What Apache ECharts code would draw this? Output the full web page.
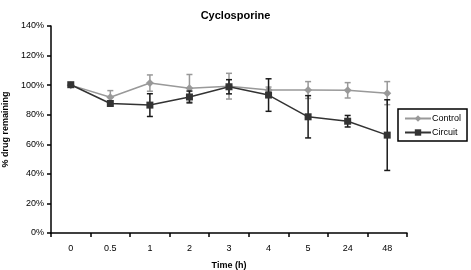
<!DOCTYPE html>
<html>
<head>
<meta charset="utf-8">
<script src="https://cdn.jsdelivr.net/npm/echarts@6/dist/echarts.min.js"></script>
<style>
    html, body { margin: 0; padding: 0; background: #fff; }
    #chart { width: 471px; height: 270px; }
</style>
</head>
<body>
<div id="chart"></div>
<script>
// Chart data
var timeLabels = ['0', '0.5', '1', '2', '3', '4', '5', '24', '48'];
var controlValues = [100, 91.8, 101.4, 97.9, 99.3, 96.7, 96.7, 96.5, 94.6];
var controlErrors = [0, 4.5, 5.5, 9.3, 8.7, 2, 5.7, 5.2, 7.8];
var circuitValues = [100.3, 87.6, 86.5, 92.0, 98.9, 93.3, 78.6, 75.6, 66.2];
var circuitErrors = [0, 0, 7.7, 4, 4.8, 11, 14.3, 3.9, 23.9];

var chart = echarts.init(document.getElementById('chart'));

// Build error bar data [index, low, high]
var buildErr = function (vals, errs) {
    return vals.map(function (v, i) {
        return [i, v - errs[i], v + errs[i]];
    });
};

var errRender = function (color) {
    return function (params, api) {
        var lo = api.coord([api.value(0), api.value(1)]);
        var hi = api.coord([api.value(0), api.value(2)]);
        if (Math.abs(lo[1] - hi[1]) < 1) return;
        var cw = 3;
        var style = { stroke: color, lineWidth: 1.5 };
        return {
            type: 'group',
            children: [
                { type: 'line', shape: { x1: lo[0], y1: lo[1], x2: hi[0], y2: hi[1] }, style: style },
                { type: 'line', shape: { x1: lo[0] - cw, y1: lo[1], x2: lo[0] + cw, y2: lo[1] }, style: style },
                { type: 'line', shape: { x1: hi[0] - cw, y1: hi[1], x2: hi[0] + cw, y2: hi[1] }, style: style }
            ]
        };
    };
};

var fontFam = '"Liberation Sans", Arial, Helvetica, sans-serif';

chart.setOption({
    animation: false,
    textStyle: { fontFamily: fontFam },
    title: {
        text: 'Cyclosporine',
        left: 'center',
        top: 5,
        textStyle: { fontSize: 11, fontWeight: 'bold', color: '#000', fontFamily: fontFam }
    },
    legend: {
        orient: 'vertical',
        left: 398,
        top: 109,
        width: 73,
        height: 36,
        padding: [5, 6, 4, 6],
        itemGap: 5,
        itemWidth: 26,
        itemHeight: 8,
        borderColor: '#000',
        borderWidth: 1.5,
        data: ['Control', 'Circuit'],
        textStyle: { fontSize: 9, color: '#000', padding: [0, 0, 0, -4] }
    },
    grid: { left: 51, right: 64, top: 26, bottom: 37, containLabel: false, outerBoundsMode: 'none' },
    xAxis: {
        type: 'category',
        data: timeLabels,
        boundaryGap: true,
        name: 'Time (h)',
        nameLocation: 'middle',
        nameGap: 28,
        nameTextStyle: { fontSize: 9, fontWeight: 'bold', color: '#000' },
        axisLine: { lineStyle: { color: '#000', width: 1.5 } },
        axisTick: { show: true, length: 4, lineStyle: { color: '#000', width: 1.5 } },
        axisLabel: { fontSize: 9, color: '#000', margin: 11 }
    },
    yAxis: {
        type: 'value',
        min: 0,
        max: 140,
        interval: 20,
        name: '% drug remaining',
        nameLocation: 'middle',
        nameGap: 38,
        nameTextStyle: { fontSize: 9, fontWeight: 'bold', color: '#000' },
        axisLine: { show: true, lineStyle: { color: '#000', width: 1.5 } },
        axisTick: { show: true, length: 4, lineStyle: { color: '#000', width: 1.5 } },
        axisLabel: { fontSize: 9, color: '#000', margin: 7, formatter: '{value}%' },
        splitLine: { show: false }
    },
    series: [
        {
            name: 'Control error',
            type: 'custom',
            renderItem: errRender('#999'),
            data: buildErr(controlValues, controlErrors),
            z: 1
        },
        {
            name: 'Circuit error',
            type: 'custom',
            renderItem: errRender('#1a1a1a'),
            data: buildErr(circuitValues, circuitErrors),
            z: 3
        },
        {
            name: 'Control',
            type: 'line',
            data: controlValues,
            symbol: 'diamond',
            symbolSize: 8,
            color: '#999',
            lineStyle: { color: '#999', width: 1.5 },
            itemStyle: { color: '#999' },
            z: 2
        },
        {
            name: 'Circuit',
            type: 'line',
            data: circuitValues,
            symbol: 'rect',
            symbolSize: 7,
            color: '#333',
            lineStyle: { color: '#333', width: 1.5 },
            itemStyle: { color: '#333' },
            z: 4
        }
    ]
});
</script>
</body>
</html>
